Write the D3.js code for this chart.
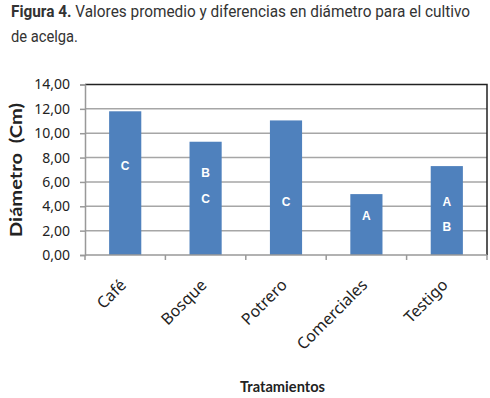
<!DOCTYPE html>
<html>
<head>
<meta charset="utf-8">
<script src="https://cdn.jsdelivr.net/npm/d3@7"></script>
<style>
  html, body { margin: 0; padding: 0; background: #fff; }
  svg { display: block; }
</style>
</head>
<body>
<div id="chart"></div>
<script>
// datos
const tratamientos = ['Café', 'Bosque', 'Potrero', 'Comerciales', 'Testigo'];
const diametros = [11.8, 9.3, 11.05, 5.0, 7.3];
// letras de significancia y la altura (en cm) donde aparecen
const letras = [['C'], ['B', 'C'], ['C'], ['A'], ['A', 'B']];
const letrasY = [[7.3], [6.8, 4.65], [4.4], [3.2], [4.35, 2.3]];
const yTicks = [0, 2, 4, 6, 8, 10, 12, 14];

const W = 490, H = 398;
const margin = { top: 84.5, right: 3, bottom: 143, left: 85 };
const width = W - margin.left - margin.right;
const height = H - margin.top - margin.bottom;

const svg = d3.select('#chart')
    .append('svg')
    .attr('width', W)
    .attr('height', H);

// título
const titulo = svg.append('text')
    .attr('x', 11)
    .attr('y', 17)
    .attr('textLength', 459)
    .attr('lengthAdjust', 'spacingAndGlyphs')
    .style('font-family', 'Roboto, "Liberation Sans", sans-serif')
    .style('font-size', '16px')
    .style('fill', '#333');
titulo.append('tspan').style('font-weight', 'bold').text('Figura 4.');
titulo.append('tspan').text(' Valores promedio y diferencias en diámetro para el cultivo');

svg.append('text')
    .attr('x', 11)
    .attr('y', 42)
    .attr('textLength', 67)
    .attr('lengthAdjust', 'spacingAndGlyphs')
    .style('font-family', 'Roboto, "Liberation Sans", sans-serif')
    .style('font-size', '16px')
    .style('fill', '#333')
    .text('de acelga.');

const g = svg.append('g')
    .attr('transform', `translate(${margin.left},${margin.top})`);

const x = d3.scaleBand()
    .domain(tratamientos)
    .range([0, width])
    .padding(0);

const y = d3.scaleLinear()
    .domain([0, 14])
    .range([height, 0]);

// líneas de cuadrícula
g.append('g')
    .selectAll('line')
    .data(yTicks.filter(d => d > 0 && d < 14))
    .enter()
    .append('line')
    .attr('x1', 0)
    .attr('x2', width)
    .attr('y1', d => y(d))
    .attr('y2', d => y(d))
    .attr('stroke', '#a6a6a6')
    .attr('stroke-width', 1.5);

// borde superior y derecho
g.append('path')
    .attr('d', `M0,${y(14)}H${width}V${height}`)
    .attr('fill', 'none')
    .attr('stroke', '#222')
    .attr('stroke-width', 1.5);

// barras
const barW = x.bandwidth() * 0.4;
g.selectAll('.bar')
    .data(diametros)
    .enter()
    .append('rect')
    .attr('class', 'bar')
    .attr('x', (d, i) => x(tratamientos[i]) + (x.bandwidth() - barW) / 2)
    .attr('y', d => y(d))
    .attr('width', barW)
    .attr('height', d => height - y(d))
    .attr('fill', '#4f81bd');

// letras dentro de las barras
tratamientos.forEach((t, i) => {
    letras[i].forEach((l, j) => {
        g.append('text')
            .attr('x', x(t) + x.bandwidth() / 2)
            .attr('y', y(letrasY[i][j]))
            .attr('dy', '0.36em')
            .attr('text-anchor', 'middle')
            .style('font-family', '"Liberation Sans", Arial, sans-serif')
            .style('font-weight', 'bold')
            .style('font-size', '12px')
            .style('fill', '#fff')
            .text(l);
    });
});

// eje y
const yAxis = g.append('g')
    .call(d3.axisLeft(y).tickValues(yTicks).tickSize(5).tickPadding(10)
        .tickFormat(d => d3.format('.2f')(d).replace('.', ',')));
yAxis.select('.domain').attr('stroke', '#999').attr('stroke-width', 1.5);
yAxis.selectAll('.tick line').attr('stroke', '#999').attr('stroke-width', 1.5);
yAxis.selectAll('.tick text')
    .style('font-family', '"Noto Sans", sans-serif')
    .style('font-size', '14px')
    .style('fill', '#222');

// eje x con marcas en los límites de cada categoría
const xAxisG = g.append('g')
    .attr('transform', `translate(0,${height})`);
xAxisG.append('line')
    .attr('x1', 0).attr('x2', width)
    .attr('stroke', '#999').attr('stroke-width', 1.5);
xAxisG.selectAll('.xtick')
    .data(tratamientos.concat(['']))
    .enter()
    .append('line')
    .attr('x1', (d, i) => i * x.step())
    .attr('x2', (d, i) => i * x.step())
    .attr('y1', 0)
    .attr('y2', 5)
    .attr('stroke', '#999')
    .attr('stroke-width', 1.5);

xAxisG.selectAll('.xlabel')
    .data(tratamientos)
    .enter()
    .append('text')
    .attr('text-anchor', 'end')
    .attr('transform', d => `translate(${x(d) + x.bandwidth() / 2 + 2},${31}) rotate(-45)`)
    .style('font-family', '"Noto Sans", sans-serif')
    .style('font-size', '16px')
    .style('fill', '#222')
    .text(d => d);

// títulos de ejes
svg.append('text')
    .attr('transform', `translate(22,170) rotate(-90)`)
    .attr('text-anchor', 'middle')
    .attr('textLength', 134)
    .attr('lengthAdjust', 'spacingAndGlyphs')
    .style('font-family', 'Lato, "Noto Sans", sans-serif')
    .style('font-weight', 'bold')
    .style('font-size', '17px')
    .style('white-space', 'pre')
    .style('fill', '#222')
    .text('Diámetro  (Cm)');

svg.append('text')
    .attr('x', 282.5)
    .attr('y', 392)
    .attr('text-anchor', 'middle')
    .attr('textLength', 85)
    .attr('lengthAdjust', 'spacingAndGlyphs')
    .style('font-family', 'Lato, "Noto Sans", sans-serif')
    .style('font-weight', 'bold')
    .style('font-size', '16px')
    .style('fill', '#222')
    .text('Tratamientos');
</script>
</body>
</html>
